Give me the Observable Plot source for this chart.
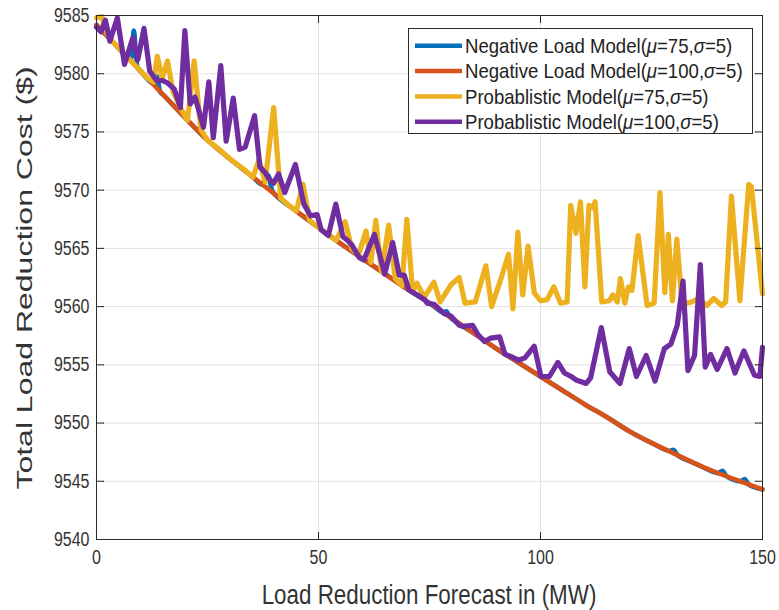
<!DOCTYPE html>
<html>
<head>
<meta charset="utf-8">
<script src="https://cdn.jsdelivr.net/npm/d3@7"></script>
<script src="https://cdn.jsdelivr.net/npm/@observablehq/plot@0.6"></script>
<style>
  html, body { margin: 0; padding: 0; background: #ffffff; }
  #chart { width: 779px; height: 610px; }
</style>
</head>
<body>
<div id="chart"></div>
<script>
// ---------- data ----------
const xTicks = [0, 50, 100, 150];
const yTicks = [9540, 9545, 9550, 9555, 9560, 9565, 9570, 9575, 9580, 9585];
const xLabel = "Load Reduction Forecast in (MW)";
const yLabel = "Total Load Reduction Cost ($)";
const seriesNames = [
  "Negative Load Model(μ=75,σ=5)",
  "Negative Load Model(μ=100,σ=5)",
  "Probablistic Model(μ=75,σ=5)",
  "Probablistic Model(μ=100,σ=5)"
];
const legendParts = [
  ["Negative Load Model(", "μ", "=75,", "σ", "=5)"],
  ["Negative Load Model(", "μ", "=100,", "σ", "=5)"],
  ["Probablistic Model(", "μ", "=75,", "σ", "=5)"],
  ["Probablistic Model(", "μ", "=100,", "σ", "=5)"]
];
const seriesColors = ["#0072BD", "#D95319", "#EDB120", "#6F2DA0"];

// Negative Load Model (mu=75)
const negLoad75X = [0,5,7.6,8.4,9.3,10,12.6,13.5,14.4,15,20,25,30,35,37.3,38.6,39.8,45,50,55,60,65,70,75,78,78.8,79.6,85,90,95,100,105,110,115,120,125,129,130,131,135,140,141,142,145,146,147,150];
const negLoad75Y = [9584.2,9582.2,9581.2,9583.7,9580.5,9580.2,9579.2,9579.8,9578.4,9578.2,9576.2,9574.3,9572.7,9571.2,9570.5,9571.3,9569.8,9568.2,9566.8,9565.4,9564.1,9562.8,9561.5,9560.3,9559.5,9559.6,9559.1,9557.7,9556.4,9555.2,9554.0,9552.8,9551.6,9550.5,9549.3,9548.3,9547.6,9547.7,9547.2,9546.5,9545.7,9545.9,9545.4,9545.0,9545.2,9544.7,9544.3];

// Negative Load Model (mu=100)
const negLoad100X = [0,5,10,15,20,25,30,35,40,45,50,55,60,65,70,75,80,85,90,95,100,105,110,115,120,125,130,135,140,145,150];
const negLoad100Y = [9584.2,9582.2,9580.2,9578.2,9576.2,9574.3,9572.7,9571.2,9569.7,9568.2,9566.8,9565.4,9564.1,9562.8,9561.5,9560.3,9559.0,9557.7,9556.4,9555.2,9554.0,9552.8,9551.6,9550.5,9549.3,9548.3,9547.4,9546.5,9545.7,9545.0,9544.3];

// Probablistic Model (mu=75)
const prob75X = [0,1.2,2.5,4,6,8,10,11.5,12.8,13.7,14.8,16,17.2,19,20.5,22,23.5,25,27,30,33.5,35.2,36.6,38,39.9,41.5,43,45,46.5,48,50,52,54,56,57.5,59,60.7,61.8,62.9,64.2,65.8,67.3,68.8,69.9,71.2,72.2,73.8,76,77.4,79.9,81.7,83,85.3,87.7,89,91.1,92.8,93.8,94.9,96,97.2,98.6,100,101.5,103,104.5,106,106.8,108,109,110,110.9,111.7,112.3,113.8,115.5,116.3,117.3,118,119,119.8,120.6,122,124,125.6,126.9,128,128.8,129.7,130.7,131.9,134,135.5,137.5,139,140.8,141.7,143,144.9,146.9,147.5,150];
const prob75Y = [9584.8,9584.9,9583.3,9582.6,9581.8,9581.0,9580.2,9579.6,9579.3,9581.5,9579.6,9581.1,9578.5,9577.0,9576.0,9581.1,9575.2,9574.3,9573.7,9572.7,9571.7,9571.1,9572.6,9570.7,9577.1,9569.3,9568.8,9568.2,9570.5,9567.4,9566.8,9566.2,9565.7,9567.3,9565.0,9564.4,9566.5,9563.8,9567.4,9563.0,9567.0,9562.4,9561.8,9567.5,9561.3,9562.0,9560.8,9562.1,9560.4,9561.9,9562.5,9560.3,9560.4,9563.5,9560.0,9562.4,9564.5,9559.8,9566.4,9561.0,9565.2,9561.2,9560.5,9560.6,9561.7,9560.3,9560.4,9568.7,9566.3,9569.0,9561.7,9568.7,9568.5,9569.0,9560.4,9560.5,9561.0,9560.4,9562.4,9560.3,9561.7,9561.4,9566.1,9560.1,9560.3,9569.8,9561.2,9566.2,9560.5,9565.8,9560.2,9560.4,9560.7,9560.1,9560.7,9560.1,9560.4,9569.5,9560.5,9570.5,9570.3,9561.1];

// Probablistic Model (mu=100)
const prob100X = [0,1,2,3,4.7,6.3,8.2,9.3,10.7,12,13.6,15,16,17.5,18.9,19.9,21.1,22.2,24.1,25.3,26.3,28,29.2,30.8,32.2,33.5,35.6,36.8,38,38.8,39.9,41,42.4,44.8,46.7,48.2,49.7,50.6,52.2,53.9,55.5,56.5,57.5,59.2,60.2,62.6,64.9,66.7,68.2,69.3,70.4,72.3,73.9,74.5,76,78.3,79.8,81.7,82.6,84.7,85.9,87.4,88.8,90.8,92,93.5,95,96.5,98.6,100.1,102,103.9,105.4,106.9,108,110.3,111.3,113.7,115.6,117.9,120,121.6,123.8,125.8,127.9,129.4,130.8,132.1,133.2,134.7,136,137.1,138.3,139.8,142,143.8,145.8,148.2,149.4,150];
const prob100Y = [9584.0,9583.6,9584.6,9582.8,9584.8,9580.8,9583.1,9581.2,9583.9,9580.2,9579.4,9579.4,9579.2,9578.7,9577.1,9583.7,9577.4,9578.0,9575.4,9579.3,9574.5,9580.7,9574.2,9577.9,9573.5,9573.7,9576.4,9572.0,9571.5,9571.0,9570.6,9571.4,9569.8,9572.2,9568.8,9567.8,9567.9,9566.6,9566.1,9568.8,9566.0,9565.7,9565.3,9564.2,9564.0,9566.2,9562.8,9565.5,9562.7,9562.7,9561.4,9561.0,9560.6,9560.3,9560.2,9559.4,9559.2,9558.4,9558.3,9558.4,9557.6,9557.0,9557.3,9557.4,9555.9,9555.7,9555.4,9555.6,9556.6,9554.0,9554.0,9555.2,9554.3,9554.0,9553.7,9553.4,9553.9,9558.2,9554.4,9553.4,9556.4,9554.0,9555.8,9553.6,9556.4,9556.8,9558.4,9562.2,9554.5,9555.8,9563.6,9554.8,9555.9,9554.6,9556.4,9554.3,9556.2,9554.1,9554.0,9556.5];

// ---------- build table ----------
const seriesX = [negLoad75X, negLoad100X, prob75X, prob100X];
const seriesY = [negLoad75Y, negLoad100Y, prob75Y, prob100Y];
const rows = [];
seriesNames.forEach((name, s) => {
  seriesX[s].forEach((x, i) => rows.push({series: name, x, y: seriesY[s][i]}));
});

const FONT = '"Liberation Sans", Arial, Helvetica, sans-serif';
const ink = "#2b2b2b";

const lineMarks = seriesNames.map((name, s) =>
  Plot.line(rows.filter(r => r.series === name), {
    x: "x", y: "y", stroke: "series",
    strokeWidth: s < 2 ? 4.6 : 5.2,
    curve: s < 2 ? "catmull-rom" : "linear"
  })
);

const tickStyle = {anchor: "start", length: 7, r: 0, stroke: ink, strokeWidth: 1};

const svg = Plot.plot({
  width: 779,
  height: 610,
  marginLeft: 96,
  marginRight: 17,
  marginTop: 15,
  marginBottom: 71,
  style: {fontFamily: FONT, background: "#ffffff", color: ink, overflow: "visible"},
  x: {domain: [0, 150]},
  y: {domain: [9540, 9585]},
  color: {domain: seriesNames, range: seriesColors},
  marks: [
    Plot.ruleX(xTicks, {stroke: "#e1e1e1", strokeWidth: 1}),
    Plot.ruleY(yTicks, {stroke: "#e1e1e1", strokeWidth: 1}),
    ...lineMarks,
    Plot.frame({stroke: ink, strokeWidth: 1}),
    Plot.vector(xTicks, {x: d => d, y: () => 9540, rotate: 0, ...tickStyle}),
    Plot.vector(xTicks, {x: d => d, y: () => 9585, rotate: 180, ...tickStyle}),
    Plot.vector(yTicks, {x: () => 0, y: d => d, rotate: 90, ...tickStyle}),
    Plot.vector(yTicks, {x: () => 150, y: d => d, rotate: 270, ...tickStyle}),
    Plot.axisX({ticks: xTicks, tickSize: 0, tickPadding: 10, fontSize: 20, label: null, tickFormat: d3.format("d"), fill: "#333"}),
    Plot.axisY({ticks: yTicks, tickSize: 0, tickPadding: 7, fontSize: 20, label: null, tickFormat: d3.format("d"), fill: "#333"})
  ]
});

// horizontally condense text to match the reference's proportions
function squeeze(el, sx) {
  const tr = el.getAttribute("transform");
  if (tr) {
    el.setAttribute("transform", tr + ` scale(${sx},1)`);
  } else {
    const x = +el.getAttribute("x") || 0, y = +el.getAttribute("y") || 0;
    el.removeAttribute("x"); el.removeAttribute("y");
    el.setAttribute("transform", `translate(${x},${y}) scale(${sx},1)`);
  }
}
svg.querySelectorAll('g[aria-label$="tick label"] text').forEach(t => squeeze(t, 0.8));

const root = d3.select(svg);

// axis titles
root.append("text")
  .attr("transform", "translate(429,604) scale(0.8,1)")
  .attr("text-anchor", "middle")
  .attr("font-family", FONT).attr("font-size", 28).attr("fill", "#333")
  .text(xLabel);
root.append("text")
  .attr("transform", "translate(32,278) scale(0.7,1) rotate(-90)")
  .attr("text-anchor", "middle")
  .attr("font-family", FONT).attr("font-size", 32).attr("fill", "#333")
  .text(yLabel);

// legend
const lg = root.append("g").attr("aria-label", "legend");
lg.append("rect")
  .attr("x", 408.5).attr("y", 28.5).attr("width", 344).attr("height", 105)
  .attr("fill", "#ffffff").attr("stroke", ink).attr("stroke-width", 1);
const rowY = [45.7, 71, 96.5, 121.7];
legendParts.forEach((parts, i) => {
  lg.append("line")
    .attr("x1", 415).attr("x2", 462).attr("y1", rowY[i]).attr("y2", rowY[i])
    .attr("stroke", seriesColors[i]).attr("stroke-width", 4.5);
  const t = lg.append("text")
    .attr("transform", `translate(465,${rowY[i]}) scale(0.93,1)`)
    .attr("dy", "0.36em")
    .attr("text-anchor", "start")
    .attr("font-family", FONT).attr("font-size", 20).attr("fill", "#222");
  parts.forEach((p, k) => {
    const ts = t.append("tspan").text(p);
    if (k === 1 || k === 3) ts.attr("font-style", "italic");
  });
});

document.getElementById("chart").appendChild(svg);
</script>
</body>
</html>
